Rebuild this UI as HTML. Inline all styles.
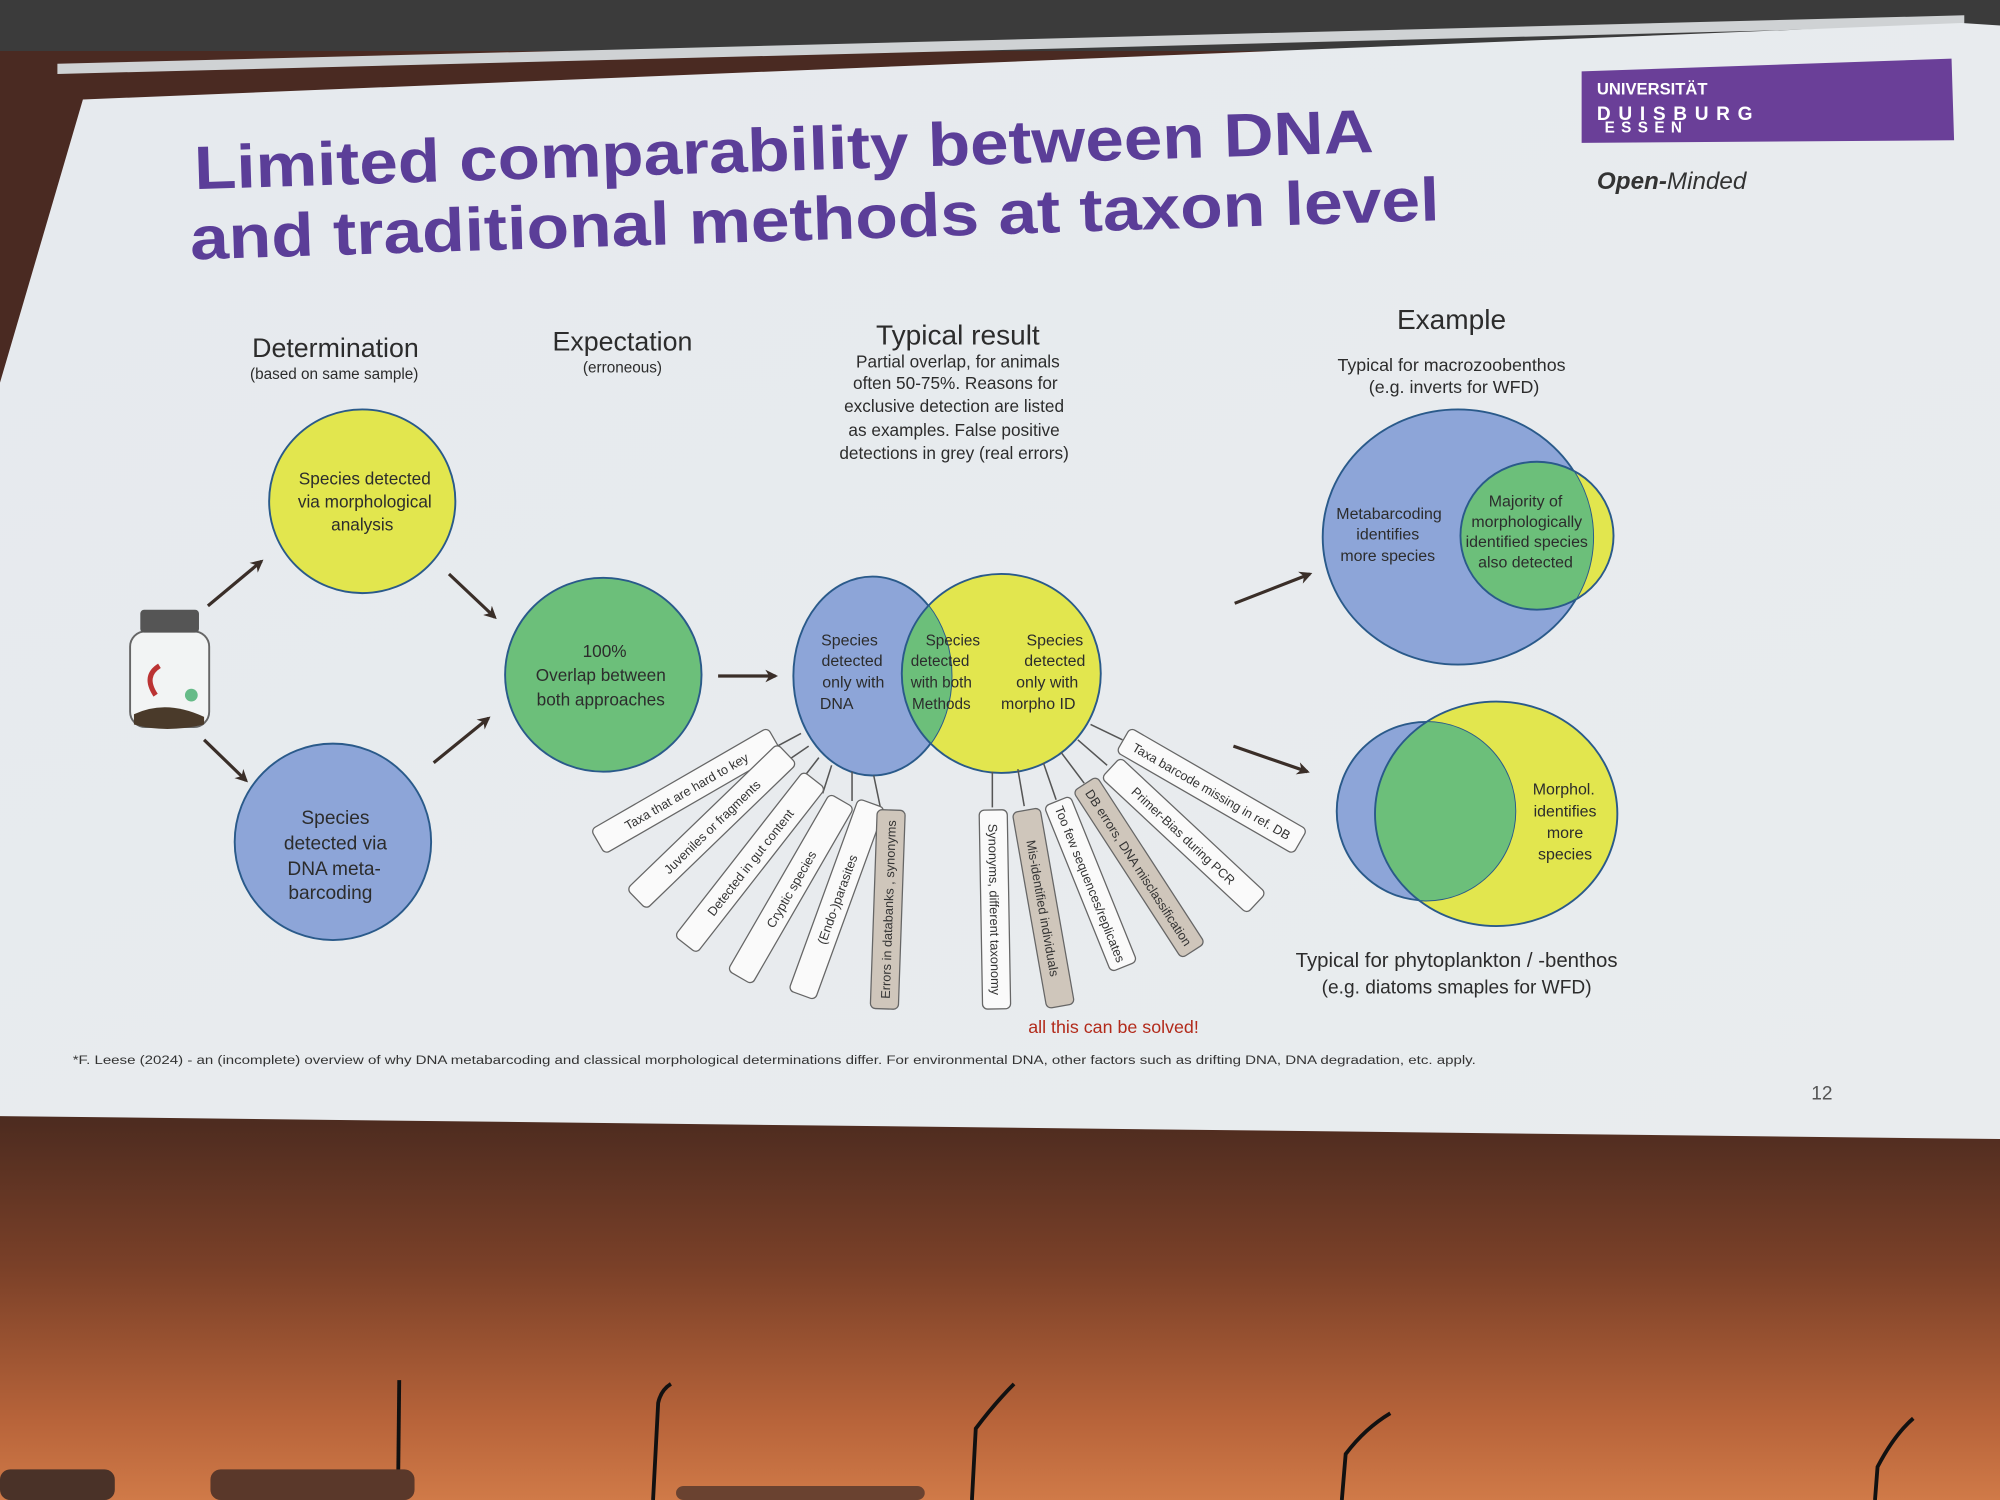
<!DOCTYPE html>
<html><head><meta charset="utf-8"><style>
html,body{margin:0;padding:0;width:2000px;height:1500px;overflow:hidden;background:#3a2a22}
svg{display:block}
text{font-family:"Liberation Sans",sans-serif}
</style></head><body>
<svg width="2000" height="1500" viewBox="0 0 1568 1176" xmlns="http://www.w3.org/2000/svg">
<defs>
<linearGradient id="bg" x1="0" y1="0" x2="0" y2="1">
<stop offset="0" stop-color="#4a2a1f"/><stop offset="0.4" stop-color="#7a4028"/><stop offset="0.8" stop-color="#b8643a"/><stop offset="1" stop-color="#d07a48"/></linearGradient>
<linearGradient id="sl" x1="0" y1="0" x2="1" y2="1"><stop offset="0" stop-color="#e6eaee"/><stop offset="1" stop-color="#e9ecee"/></linearGradient>
<clipPath id="vb"><ellipse cx="684" cy="530" rx="62" ry="78"/></clipPath>
<clipPath id="e1"><ellipse cx="1143" cy="421" rx="106" ry="100"/></clipPath>
<clipPath id="e2"><ellipse cx="1118" cy="636" rx="70" ry="70"/></clipPath>
<marker id="ar" markerWidth="10" markerHeight="10" refX="8" refY="5" orient="auto" markerUnits="userSpaceOnUse"><path d="M0,0 L10,5 L0,10 L3,5z" fill="#3a2e28"/></marker>
</defs>
<rect width="1568" height="1176" fill="#4a2a22"/>
<rect y="870" width="1568" height="306" fill="url(#bg)"/>
<rect width="1568" height="40" fill="#3b3b3b"/>
<polygon points="45,50 1540,12 1540,20 45,58" fill="#cfd2d4"/>
<polygon points="65,78 1538,18 1568,20 1568,893 0,875 0,300" fill="url(#sl)"/>
<g fill="#5b3e98" font-weight="bold" font-size="48" transform="rotate(-1.8 640 150)">
<text x="153" y="133" textLength="925" lengthAdjust="spacingAndGlyphs">Limited comparability between DNA</text>
<text x="148" y="188" textLength="980" lengthAdjust="spacingAndGlyphs">and traditional methods at taxon level</text></g>
<polygon points="1240,56 1530,46 1532,110 1240,112" fill="#6a3f98"/>
<text x="1252" y="74" fill="#fff" font-size="13" font-weight="bold">UNIVERSITÄT</text>
<text x="1252" y="94" fill="#fff" font-size="15" font-weight="bold" letter-spacing="6">DUISBURG</text>
<text x="1258" y="104" fill="#fff" font-size="12" font-weight="bold" letter-spacing="5">ESSEN</text>
<text x="1252" y="148" fill="#333" font-size="19" font-style="italic"><tspan font-weight="bold">Open-</tspan>Minded</text>
<g fill="#2c2c2c" text-anchor="middle">
<text x="263" y="280" font-size="21">Determination</text>
<text x="262" y="297" font-size="12">(based on same sample)</text>
<text x="488" y="275" font-size="21">Expectation</text>
<text x="488" y="292" font-size="12">(erroneous)</text>
<text x="751" y="270" font-size="22">Typical result</text>
<g font-size="13.5"><text x="751" y="288">Partial overlap, for animals</text><text x="749" y="305">often 50-75%. Reasons for</text><text x="748" y="323">exclusive detection are listed</text><text x="748" y="342">as examples. False positive</text><text x="748" y="360">detections in grey (real errors)</text></g>
<text x="1138" y="258" font-size="22">Example</text>
<text x="1138" y="291" font-size="14">Typical for macrozoobenthos</text>
<text x="1140" y="308" font-size="14">(e.g. inverts for WFD)</text>
<text x="1142" y="758" font-size="16">Typical for phytoplankton / -benthos</text>
<text x="1142" y="779" font-size="15">(e.g. diatoms smaples for WFD)</text>
</g>
<g stroke="#2a5a8a" stroke-width="1.5">
<ellipse cx="284" cy="393" rx="73" ry="72" fill="#e2e64e"/>
<ellipse cx="261" cy="660" rx="77" ry="77" fill="#8da5d8"/>
<ellipse cx="473" cy="529" rx="77" ry="76" fill="#6cbf7a"/>
<ellipse cx="785" cy="528" rx="78" ry="78" fill="#e2e64e"/>
<ellipse cx="684" cy="530" rx="62" ry="78" fill="#8da5d8"/>
<ellipse cx="785" cy="528" rx="78" ry="78" fill="#6cbf7a" clip-path="url(#vb)"/>
<ellipse cx="1205" cy="420" rx="60" ry="58" fill="#e2e64e"/>
<ellipse cx="1143" cy="421" rx="106" ry="100" fill="#8da5d8"/>
<ellipse cx="1205" cy="420" rx="60" ry="58" fill="#6cbf7a" clip-path="url(#e1)"/>
<ellipse cx="1173" cy="638" rx="95" ry="88" fill="#e2e64e"/>
<ellipse cx="1118" cy="636" rx="70" ry="70" fill="#8da5d8"/>
<ellipse cx="1173" cy="638" rx="95" ry="88" fill="#6cbf7a" clip-path="url(#e2)"/>
</g>
<g fill="#2c2c2c" text-anchor="middle" font-size="13.5">
<text x="286" y="380">Species detected</text><text x="286" y="398">via morphological</text><text x="284" y="416">analysis</text>
<text x="263" y="646" font-size="15">Species</text><text x="263" y="666" font-size="15">detected via</text><text x="262" y="686" font-size="15">DNA meta-</text><text x="259" y="705" font-size="15">barcoding</text>
<text x="474" y="515">100%</text><text x="471" y="534">Overlap between</text><text x="471" y="553">both approaches</text>
<g font-size="12.5"><text x="666" y="506">Species</text><text x="668" y="522">detected</text><text x="669" y="539">only with</text><text x="656" y="556">DNA</text>
<text x="747" y="506" font-size="12">Species</text><text x="737" y="522" font-size="12">detected</text><text x="738" y="539" font-size="12">with both</text><text x="738" y="556" font-size="12">Methods</text>
<text x="827" y="506">Species</text><text x="827" y="522">detected</text><text x="821" y="539">only with</text><text x="814" y="556">morpho ID</text>
<text x="1089" y="407">Metabarcoding</text><text x="1088" y="423">identifies</text><text x="1088" y="440">more species</text>
<text x="1196" y="397">Majority of</text><text x="1197" y="413">morphologically</text><text x="1197" y="429">identified species</text><text x="1196" y="445">also detected</text>
<text x="1226" y="623">Morphol.</text><text x="1227" y="640">identifies</text><text x="1227" y="657">more</text><text x="1227" y="674">species</text></g>
</g>
<g stroke="#3a2e28" stroke-width="2.5" marker-end="url(#ar)">
<line x1="163" y1="475" x2="205" y2="440"/><line x1="352" y1="450" x2="388" y2="484"/>
<line x1="160" y1="580" x2="193" y2="612"/><line x1="340" y1="598" x2="383" y2="563"/>
<line x1="563" y1="530" x2="608" y2="530"/><line x1="968" y1="473" x2="1027" y2="450"/>
<line x1="967" y1="585" x2="1025" y2="605"/>
</g>
<g>
<rect x="102" y="495" width="62" height="75" rx="12" fill="#f2f4f4" stroke="#666" stroke-width="1.5"/>
<rect x="110" y="478" width="46" height="18" rx="3" fill="#555"/>
<path d="M105,560 Q130,548 160,562 L160,568 Q130,575 105,568z" fill="#4a3a2a"/>
<path d="M122,545 Q112,530 125,522" fill="none" stroke="#b33" stroke-width="4"/>
<circle cx="150" cy="545" r="5" fill="#6b8"/>
</g>
<g stroke="#555" stroke-width="1.2" fill="none">
<line x1="628" y1="575" x2="600" y2="590"/><line x1="634" y1="585" x2="612" y2="600"/><line x1="642" y1="594" x2="628" y2="612"/>
<line x1="652" y1="600" x2="645" y2="622"/><line x1="668" y1="605" x2="668" y2="628"/><line x1="685" y1="608" x2="690" y2="632"/>
<line x1="778" y1="605" x2="778" y2="633"/><line x1="798" y1="603" x2="803" y2="632"/><line x1="818" y1="598" x2="828" y2="627"/>
<line x1="832" y1="590" x2="850" y2="614"/><line x1="845" y1="580" x2="868" y2="600"/><line x1="855" y1="568" x2="880" y2="580"/>
</g>
<g font-size="10" fill="#333" text-anchor="middle">
<g transform="translate(538,620) rotate(-30)"><rect x="-80" y="-11" width="160" height="22" rx="4" fill="#fafafa" stroke="#666"/><text y="4">Taxa that are hard to key</text></g>
<g transform="translate(558,648) rotate(-44)"><rect x="-82" y="-11" width="164" height="22" rx="4" fill="#fafafa" stroke="#666"/><text y="4">Juveniles or fragments</text></g>
<g transform="translate(588,676) rotate(-52)"><rect x="-82" y="-11" width="164" height="22" rx="4" fill="#fafafa" stroke="#666"/><text y="4">Detected in gut content</text></g>
<g transform="translate(620,697) rotate(-60)"><rect x="-80" y="-11" width="160" height="22" rx="4" fill="#fafafa" stroke="#666"/><text y="4">Cryptic species</text></g>
<g transform="translate(656,705) rotate(-70)"><rect x="-80" y="-11" width="160" height="22" rx="4" fill="#fafafa" stroke="#666"/><text y="4">(Endo-)parasites</text></g>
<g transform="translate(696,713) rotate(-88)"><rect x="-78" y="-11" width="156" height="22" rx="4" fill="#cfc6bb" stroke="#666"/><text y="4">Errors in databanks , synonyms</text></g>
<g transform="translate(780,713) rotate(89)"><rect x="-78" y="-11" width="156" height="22" rx="4" fill="#fafafa" stroke="#666"/><text y="4">Synonyms, different taxonomy</text></g>
<g transform="translate(818,712) rotate(80)"><rect x="-78" y="-11" width="156" height="22" rx="4" fill="#cfc6bb" stroke="#666"/><text y="4">Mis-identified individuals</text></g>
<g transform="translate(855,693) rotate(68)"><rect x="-70" y="-11" width="140" height="22" rx="4" fill="#fafafa" stroke="#666"/><text y="4">Too few sequences/replicates</text></g>
<g transform="translate(893,680) rotate(57)"><rect x="-78" y="-11" width="156" height="22" rx="4" fill="#cfc6bb" stroke="#666"/><text y="4">DB errors, DNA misclassification</text></g>
<g transform="translate(928,655) rotate(43)"><rect x="-78" y="-11" width="156" height="22" rx="4" fill="#fafafa" stroke="#666"/><text y="4">Primer-Bias during PCR</text></g>
<g transform="translate(950,620) rotate(30)"><rect x="-80" y="-11" width="160" height="22" rx="4" fill="#fafafa" stroke="#666"/><text y="4">Taxa barcode missing in ref. DB</text></g>
</g>
<text x="873" y="810" font-size="14" fill="#b22a1a" text-anchor="middle">all this can be solved!</text>
<text x="57" y="834" font-size="9.5" fill="#333" textLength="1100" lengthAdjust="spacingAndGlyphs">*F. Leese (2024) - an (incomplete) overview of why DNA metabarcoding and classical morphological determinations differ. For environmental DNA, other factors such as drifting DNA, DNA degradation, etc. apply.</text>
<text x="1420" y="862" font-size="15" fill="#555">12</text>
<g stroke="#111" stroke-width="3" fill="none">
<path d="M312,1176 L313,1082"/><path d="M512,1176 L516,1100 Q518,1090 526,1085"/>
<path d="M762,1176 L765,1120 Q780,1100 795,1085"/><path d="M1052,1176 L1055,1140 Q1070,1120 1090,1108"/>
<path d="M1470,1176 L1472,1150 Q1485,1125 1500,1112"/>
</g>
<rect x="0" y="1152" width="90" height="24" rx="8" fill="#4a3228"/>
<rect x="165" y="1152" width="160" height="24" rx="8" fill="#5a382a"/>
<rect x="530" y="1165" width="195" height="11" rx="6" fill="#6a4230"/>
</svg>
</body></html>
